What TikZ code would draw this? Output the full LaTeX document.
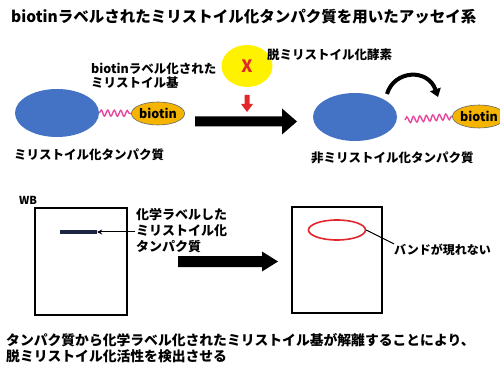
\documentclass[tikz,border=0pt]{standalone}
\usepackage{fontspec}
\setmainfont{Noto Sans CJK JP}
\usetikzlibrary{shapes.geometric,arrows.meta,decorations.pathmorphing}
\definecolor{protblue}{HTML}{4472C4}
\definecolor{biogold}{HTML}{F4B400}
\definecolor{wavepink}{HTML}{E8479E}
\definecolor{xred}{HTML}{E3262B}
\definecolor{bandnavy}{HTML}{1C2541}
\tikzset{
  lbl/.style={inner sep=0pt, font=\bfseries\fontsize{12.5}{14}\selectfont, align=left},
  prot/.style={ellipse, fill=protblue, minimum width=84pt, minimum height=48pt, inner sep=0pt},
  bio/.style={ellipse, fill=biogold, draw=black!60, line width=0.6pt, minimum width=43pt, minimum height=23pt, inner sep=0pt, font=\bfseries\fontsize{12.5}{13}\selectfont},
  wave/.style={wavepink, line width=1.4pt, decorate, decoration={snake, segment length=6.5pt, amplitude=3pt}},
  gel/.style={draw=black, line width=2.6pt, fill=white},
}
\begin{document}
\begin{tikzpicture}[x=1pt,y=-1pt]
\useasboundingbox (0,0) rectangle (500,371);
\fill[white] (0,0) rectangle (500,371);
% title
\node[lbl, anchor=west, font=\bfseries\fontsize{15.5}{17}\selectfont] (title) at (11,17) {biotinラベルされたミリストイル化タンパク質を用いたアッセイ系};
% left protein
\node[prot] (p1) at (57,113) {};
\node[bio] (b1) at (158,113.5) {biotin};
\draw[wave] (p1.east) -- (b1.west);
\node[lbl, anchor=west] (l1) at (91,76) {biotinラベル化された\\ミリストイル基};
\node[lbl, anchor=west] (l2) at (14,155) {ミリストイル化タンパク質};
% enzyme
\node[ellipse, fill=yellow, minimum width=51pt, minimum height=42pt, inner sep=0pt, text=xred, font=\bfseries\fontsize{17}{18}\selectfont] (enz) at (247,66) {X};
\node[lbl, anchor=west] (l3) at (267,55) {脱ミリストイル化酵素};
\fill[xred] (244.5,95) -- (249.5,95) -- (249.5,104) -- (253,104) -- (247,112) -- (241,104) -- (244.5,104) -- cycle;
% big arrow 1
\fill[black] (195,116.5) -- (282,116.5) -- (282,108.5) -- (297,121.5) -- (282,134.5) -- (282,126.5) -- (195,126.5) -- cycle;
% right protein
\node[prot] (p2) at (355,117) {};
\node[bio] (b2) at (479,116.5) {biotin};
\coordinate (w2) at (405,120);
\draw[wave] (w2) -- (b2.west);
\coordinate (c1) at (387,94);
\coordinate (c2) at (438,97);
\draw[line width=4pt, -{Triangle[length=8pt,width=11pt]}] (c1) .. controls (394,70) and (428,68) .. (c2);
\node[lbl, anchor=west] (l4) at (311,158) {非ミリストイル化タンパク質};
% WB
\node[lbl, anchor=west, font=\bfseries\fontsize{11}{12}\selectfont] (wb) at (19,200) {WB};
\draw[gel] (35,208) rectangle (127,315);
\node[fill=bandnavy, minimum width=37pt, minimum height=4pt, inner sep=0pt] (band) at (78.5,232) {};
\node[lbl, anchor=west, font=\bfseries\fontsize{13}{16}\selectfont] (l5) at (136,231) {化学ラベルした\\ミリストイル化\\タンパク質};
\coordinate (a5) at (135,232);
\draw[line width=1pt, -{Stealth[length=5pt,width=5pt]}] (a5) -- (band.east);
% big arrow 2
\fill[black] (178,256) -- (262,256) -- (262,251.5) -- (278,261.5) -- (262,271.5) -- (262,267) -- (178,267) -- cycle;
% right gel
\draw[gel] (292,207) rectangle (382,313);
\node[ellipse, draw=xred, line width=1.6pt, minimum width=57pt, minimum height=20pt, inner sep=0pt] (rb) at (337,230) {};
\node[lbl, anchor=west, font=\bfseries\fontsize{12}{14}\selectfont] (l6) at (394,250) {バンドが現れない};
\draw[line width=1pt] (rb.east) -- (l6.north west);
% bottom text
\node[lbl, anchor=west, font=\bfseries\fontsize{13.8}{16}\selectfont] (l7) at (6,340) {タンパク質から化学ラベル化されたミリストイル基が解離することにより、};
\node[lbl, anchor=west, font=\bfseries\fontsize{13.8}{16}\selectfont] (l8) at (6,356) {脱ミリストイル化活性を検出させる};
\end{tikzpicture}
\end{document}
